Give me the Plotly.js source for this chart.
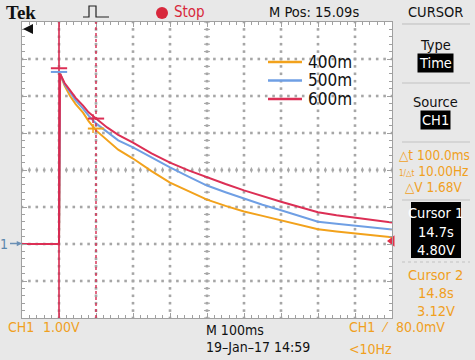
<!DOCTYPE html>
<html><head><meta charset="utf-8">
<script src="https://cdn.plot.ly/plotly-3.0.1.min.js"></script>
<style>html,body{margin:0;padding:0;background:#e8e8e8;}#chart{width:475px;height:360px;}</style>
</head><body><div id="chart"></div>
<script>
// ---- data (time in ms from left edge of screen, voltage in V) ----
const seriesNames = ['400m', '500m', '600m'];
const timeMs = [0, 100, 103, 115, 130, 145, 165, 180, 200, 230, 260, 300, 350, 400, 450, 500, 550, 600, 650, 700, 750, 800, 850, 900, 950, 1000];
const v400 = [0, 0, 4.6, 4.28, 4.00, 3.78, 3.55, 3.32, 3.07, 2.80, 2.55, 2.31, 1.97, 1.66, 1.42, 1.20, 1.03, 0.88, 0.76, 0.64, 0.52, 0.40, 0.34, 0.29, 0.23, 0.18];
const v500 = [0, 0, 4.6, 4.32, 4.10, 3.88, 3.66, 3.47, 3.26, 3.02, 2.80, 2.61, 2.33, 2.07, 1.82, 1.58, 1.40, 1.22, 1.06, 0.91, 0.75, 0.60, 0.55, 0.50, 0.45, 0.39];
const v600 = [0, 0, 4.6, 4.35, 4.15, 3.95, 3.74, 3.56, 3.39, 3.15, 2.95, 2.74, 2.45, 2.20, 1.99, 1.80, 1.62, 1.45, 1.29, 1.14, 1.00, 0.86, 0.78, 0.72, 0.65, 0.58];
const cursorTimes = [100, 200];            // ms
const cursor1Levels = [4.75, 4.65];        // red, blue marks at cursor 1
const cursor2Levels = [3.39, 3.12];        // red, orange marks at cursor 2
const triggerLevel = 0.08;                 // V
const readout = {dt:'100.0ms', f:'10.00Hz', dv:'1.68V', c1t:'14.7s', c1v:'4.80V', c2t:'14.8s', c2v:'3.12V'};

// ---- styles ----
const colors = ['#f2a21c', '#6f9fe4', '#dc2f55'];
const ORANGE = '#f0a01e';
const NARROW = "'DejaVu Sans Condensed', 'Liberation Sans Narrow', Roboto, sans-serif";
const L = 22, T = 22, W = 370, H = 296;
const px = x => (x - L) / W;
const py = y => 1 - (y - T) / H;

const shapes = [];
const ann = [];

// graticule dots (decoration)
const gx = [], gy = [];
for (let d = 1; d < 10; d++) for (let k = 0; k <= 40; k++) { gx.push(d * 100); gy.push(-2 + k * 0.2); }
for (let d = 1; d < 8; d++) for (let k = 0; k <= 50; k++) { gx.push(k * 20); gy.push(-2 + d); }
const traces = [{x: gx, y: gy, type: 'scatter', mode: 'markers', hoverinfo: 'skip', showlegend: false,
  marker: {symbol: 'square', size: 2.6, color: '#a6a6a6', opacity: 1, line: {width: 0}}}];
[v400, v500, v600].forEach((v, i) => traces.push({
  x: timeMs, y: v, type: 'scatter', mode: 'lines', name: seriesNames[i],
  line: {color: colors[i], width: 2}, hoverinfo: 'skip'
}));
traces.push({x: [1000], y: [triggerLevel], type: 'scatter', mode: 'markers', cliponaxis: false,
  marker: {symbol: 'triangle-left', size: 10, color: '#e0304a'}, hoverinfo: 'skip'});

function txt(text, x, y, o = {}) {
  ann.push(Object.assign({text, xref: 'paper', yref: 'paper', x: px(x), y: py(y), showarrow: false,
    xanchor: o.xa || 'left', yanchor: 'middle',
    font: {family: o.family || NARROW, size: o.size || 14, color: o.color || '#111'}},
    o.bg ? {bgcolor: o.bg, borderpad: 1} : {}));
}
function pline(x0, y0, x1, y1, color, width, dash) {
  shapes.push({type: 'line', xref: 'paper', yref: 'paper', x0: px(x0), y0: py(y0), x1: px(x1), y1: py(y1),
    line: {color, width, dash: dash || 'solid'}});
}

// center crosshair ticks
for (let i = 0; i <= 50; i++) {
  shapes.push({type: 'line', xref: 'x', yref: 'y', x0: i * 20, x1: i * 20, y0: 1.93, y1: 2.07, line: {color: '#a0a0a0', width: 1}, layer: 'below'});
}
for (let i = 0; i <= 40; i++) {
  const yv = -2 + i * 0.2;
  shapes.push({type: 'line', xref: 'x', yref: 'y', x0: 492, x1: 508, y0: yv, y1: yv, line: {color: '#a0a0a0', width: 1}, layer: 'below'});
}

// cursors
shapes.push({type: 'line', xref: 'x', yref: 'paper', x0: cursorTimes[0], x1: cursorTimes[0], y0: 0, y1: 1, line: {color: '#d62a50', width: 1.6}});
shapes.push({type: 'line', xref: 'x', yref: 'paper', x0: cursorTimes[1], x1: cursorTimes[1], y0: 0, y1: 1, line: {color: '#d62a50', width: 1.4, dash: 'dot'}});
[[cursor1Levels[0], colors[2]], [cursor1Levels[1], colors[1]]].forEach(([v, c]) =>
  shapes.push({type: 'line', xref: 'x', yref: 'y', x0: cursorTimes[0] - 22, x1: cursorTimes[0] + 22, y0: v, y1: v, line: {color: c, width: 2}}));
[[cursor2Levels[0], colors[2]], [cursor2Levels[1], colors[0]]].forEach(([v, c]) => {
  shapes.push({type: 'line', xref: 'x', yref: 'y', x0: cursorTimes[1] - 22, x1: cursorTimes[1] + 22, y0: v, y1: v, line: {color: c, width: 2}});
  shapes.push({type: 'line', xref: 'x', yref: 'y', x0: cursorTimes[1] - 8, x1: cursorTimes[1] - 8, y0: v - 0.12, y1: v + 0.12, line: {color: c, width: 1.5}});
});

// manual legend
seriesNames.forEach((n, i) => {
  const yy = 62 + i * 18.5;
  pline(268, yy, 302, yy, colors[i], 2.5);
  txt(n, 306, yy, {size: 17, color: '#111'});
});

// top bar
txt('<b>Tek</b>', 4, 12, {family: "'Liberation Serif', 'DejaVu Serif', serif", size: 19, color: '#111'});
shapes.push({type: 'path', xref: 'paper', yref: 'paper', line: {color: '#222', width: 1.2},
  path: `M ${px(83)},${py(17)} L ${px(89)},${py(17)} L ${px(89)},${py(6)} L ${px(96)},${py(6)} L ${px(96)},${py(17)} L ${px(109)},${py(17)}`});
shapes.push({type: 'circle', xref: 'paper', yref: 'paper', x0: px(156), x1: px(168), y0: py(7), y1: py(19), fillcolor: '#d8283c', line: {width: 0}});
txt('Stop', 172, 12, {color: '#d8283c', size: 15});
txt('M Pos: 15.09s', 314, 12, {xa: 'center', size: 14.5});
txt('CURSOR', 436, 12, {xa: 'center', size: 14.5});
pline(402, 24, 470, 24, '#bdbdbd', 1);

// left arrow (trigger off screen) and ground marker
ann.push({text: '', xref: 'paper', yref: 'paper', x: px(23), y: py(29), ax: 11, ay: 0, showarrow: true, arrowhead: 2, arrowsize: 1, arrowwidth: 2, arrowcolor: '#111'});
ann.push({text: '1', xref: 'paper', yref: 'paper', x: px(22), y: py(243.5), ax: -12, ay: 0, showarrow: true, arrowhead: 2, arrowsize: 0.7, arrowwidth: 1.5, arrowcolor: '#6a8fb5',
  font: {family: NARROW, size: 14, color: '#5b87ad'}, xanchor: 'right'});

// right panel
txt('Type', 436, 45, {xa: 'center', size: 14.5});
txt('Time', 436, 63, {xa: 'center', size: 14.5, color: '#fff', bg: '#000'});
pline(402, 83, 470, 83, '#c2c2c2', 1);
txt('Source', 436, 102, {xa: 'center', size: 14.5});
txt('CH1', 435, 120, {xa: 'center', size: 14.5, color: '#fff', bg: '#000'});
pline(402, 142, 470, 142, '#c2c2c2', 1);
txt('△t ' + readout.dt, 434, 155, {xa: 'center', size: 13.5, color: ORANGE});
txt('<span style="font-size:8px">1/△t</span> ' + readout.f, 434, 171, {xa: 'center', size: 13.5, color: ORANGE});
txt('△V ' + readout.dv, 434, 187, {xa: 'center', size: 13.5, color: ORANGE});
pline(402, 200, 470, 200, '#c2c2c2', 1);
shapes.push({type: 'rect', xref: 'paper', yref: 'paper', x0: px(411), x1: px(461), y0: py(202), y1: py(258), fillcolor: '#000', line: {width: 0}});
txt('Cursor 1', 436, 213, {xa: 'center', size: 14.5, color: '#fff'});
txt(readout.c1t, 436, 232, {xa: 'center', size: 14.5, color: '#fff'});
txt(readout.c1v, 436, 250, {xa: 'center', size: 14.5, color: '#fff'});
pline(402, 262, 470, 262, '#c2c2c2', 1, 'dot');
txt('Cursor 2', 436, 275, {xa: 'center', size: 14.5, color: ORANGE});
txt(readout.c2t, 436, 293, {xa: 'center', size: 14.5, color: ORANGE});
txt(readout.c2v, 436, 311, {xa: 'center', size: 14.5, color: ORANGE});

// bottom bar
txt('CH1', 6, 327, {size: 14, color: ORANGE});
txt('1.00V', 41, 327, {size: 14, color: ORANGE});
txt('M 100ms', 204, 330, {size: 14});
txt('19–Jan–17 14:59', 204, 347, {size: 14});
txt('CH1', 347, 327, {size: 14, color: ORANGE});
txt('⁄', 379, 327, {size: 14, color: ORANGE});
txt('80.0mV', 394, 327, {size: 14, color: ORANGE});
txt('<10Hz', 347, 349, {size: 14, color: ORANGE});

const axisCommon = {showticklabels: false, zeroline: false, showline: true, linecolor: '#a0a0a0', linewidth: 1,
  mirror: 'ticks', ticks: 'inside', ticklen: 5, tickcolor: '#a0a0a0', fixedrange: true, showgrid: false};
const layout = {
  width: 475, height: 360, margin: {l: L, r: 475 - L - W, t: T, b: 360 - T - H},
  paper_bgcolor: '#e8e8e8', plot_bgcolor: '#ffffff', showlegend: false,
  xaxis: Object.assign({}, axisCommon, {range: [0, 1000], dtick: 100, tick0: 0,
    minor: {dtick: 20, ticks: 'inside', ticklen: 3, tickcolor: '#a0a0a0', showgrid: false}}),
  yaxis: Object.assign({}, axisCommon, {range: [-2, 6], dtick: 1, tick0: 0,
    minor: {dtick: 0.2, ticks: 'inside', ticklen: 3, tickcolor: '#a0a0a0', showgrid: false}}),
  shapes, annotations: ann
};
Plotly.newPlot('chart', traces, layout, {staticPlot: true, displayModeBar: false});
</script></body></html>
